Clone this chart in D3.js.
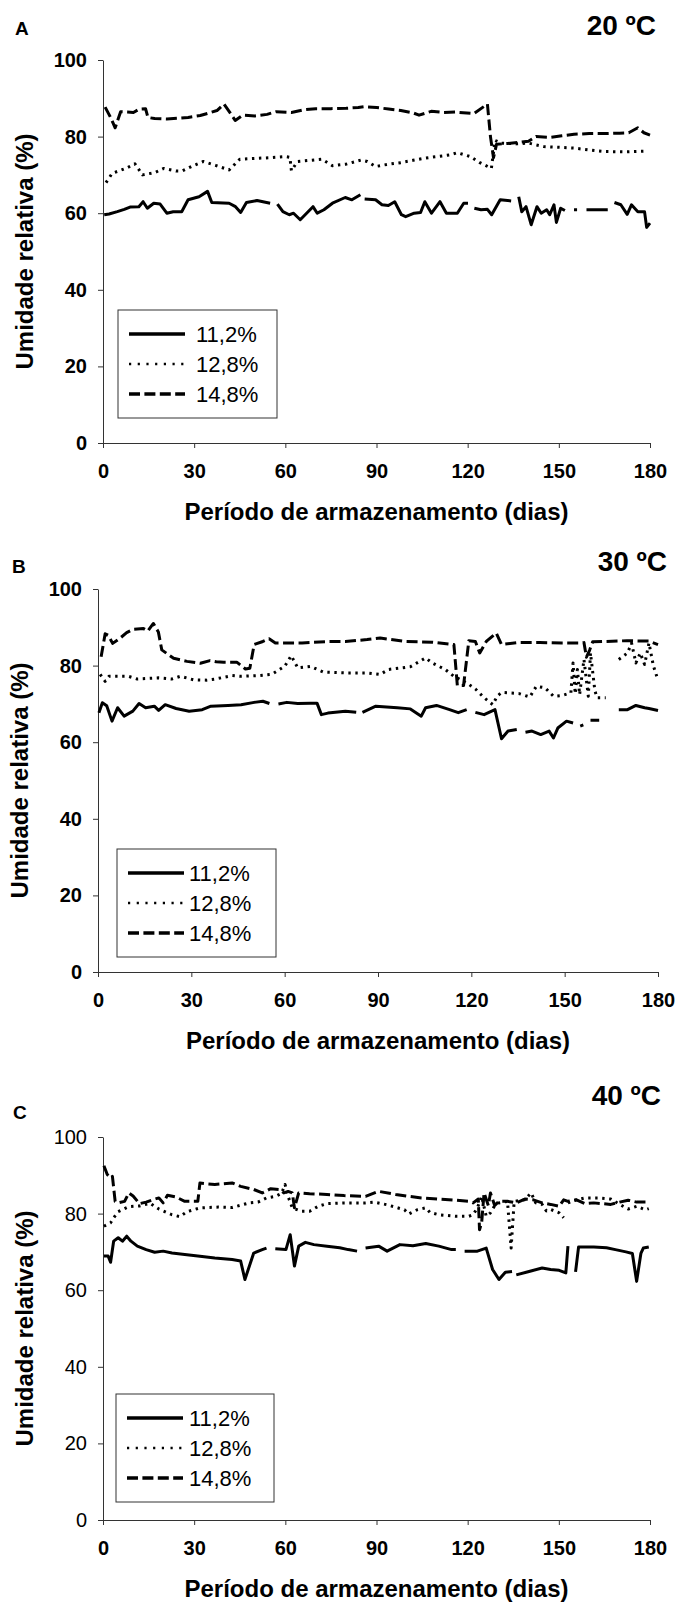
<!DOCTYPE html>
<html>
<head>
<meta charset="utf-8">
<script src="https://cdn.jsdelivr.net/npm/d3@7"></script>
<style>
  body { margin: 0; background: #fff; }
  svg { display: block; font-family: "Liberation Sans", Arial, sans-serif; }
</style>
</head>
<body>
<svg id="chart" width="676" height="1602"></svg>
<script>
const xTicks = [0, 30, 60, 90, 120, 150, 180];
const yTicks = [0, 20, 40, 60, 80, 100];
const seriesNames = ["11,2%", "12,8%", "14,8%"];
const panelLetters = ["A", "B", "C"];
const temperatures = ["20 ºC", "30 ºC", "40 ºC"];

// [dia, UR %]; null = falha na leitura
const rhA112 = [[0.4,59.6],[2,59.8],[4.7,60.4],[7,61],[8.9,61.6],[11.8,61.7],[13.2,63],[14.6,61.3],[16.7,62.6],[18.8,62.4],[21,60],[23.1,60.4],[25.9,60.4],[28,63.5],[31.6,64.3],[34.4,65.7],[35.8,62.8],[41.5,62.6],[43.6,61.7],[45.3,60.2],[47.2,62.8],[50.7,63.3],[55,62.6],null,[57.4,62.4],[59.2,60.4],[61.3,59.6],[62.7,60],[64.9,58.3],[67,60],[69.1,61.7],[70.5,60],[72.7,60.9],[75.5,62.6],[79.7,64.1],[81.9,63.5],[84.7,64.8],null,[86.1,63.7],[89.7,63.5],[91.8,62.2],[93.9,62],[96,63],[98.2,59.6],[99.6,59.1],[102.4,60],[104.5,60.2],[105.9,63],[108.1,60],[110.9,63],[113,60],[116.6,60],[118.7,62.6],[120.1,62.6],null,[122.2,61.3],[124.4,60.9],[126.5,61],[127.9,59.6],[130.7,63.5],[134.3,63.2],null,[136.8,64.3],[137.8,60.4],[139.2,61.7],[140.9,57],[142.8,61.7],[144.2,60],[146,60.9],[147,59.6],[148.4,62.2],[149.2,57.6],[150.6,61.3],[152,60.7],null,[155,60.9],[156,60.9],null,[159.1,60.9],[166.1,60.9],null,[168.3,62.8],[170.4,62.2],[172.5,59.7],[173.9,62.2],[176,60.4],[178.2,60.4],[178.9,56.3],[180,57.4]];
const rhA128 = [[1,68],[3,70.4],[7.5,71.7],[10.5,72.9],[13,70],[17,70.6],[20,71.7],[24,71],[26,71],[30,72.5],[33,73.5],[37,72.5],[41.5,71.3],[45,74.1],[50,74.3],[55,74.5],[60,74.8],[61.5,74.6],[62,71.1],[64,73.5],[68,73.8],[72,74.1],[75.5,72.4],[80,72.8],[85,73.9],[87,73.5],[89.7,72.2],[94,72.8],[98,73.2],[102,73.8],[106,74.4],[110,74.8],[114,75.2],[116.6,75.8],[120.8,74.8],[124,73.2],[127.8,71.7],[129,79],[131,78.3],[136,78.1],[140,78.3],[145,77.4],[150,77.2],[155,77],[160,76.5],[165,76.1],[172,76],[179,76.2]];
const rhA148 = [[0.7,87.7],[2.5,85],[4,82.3],[5.8,86.5],[8,86.4],[10,86.3],[12,87.2],[14,87.3],[14.8,85],[17,84.7],[21,84.6],[25,84.8],[28,85],[32,85.5],[35,86.2],[37.5,86.8],[39.8,88.5],[42,86],[43.5,84.2],[46,85.6],[50,85.4],[54,85.8],[57,86.5],[62,86.3],[66,87],[70,87.3],[75,87.3],[80,87.4],[84,87.6],[86,87.8],[90,87.6],[94,87.2],[98,86.8],[102,86.2],[104,85.6],[108,86.6],[112,86.3],[116,86.4],[122,86],[126.5,88.5],[127.5,80],[128.5,74.5],[129.5,78],[133,78.2],[137,78.5],[140,78.8],[142.5,80],[147,79.8],[151,80.2],[155,80.6],[160,80.8],[165,80.8],[170,80.9],[173,81],[176,82.3],[178,81],[180,80.4]];

const rhB112 = [[0.3,67.7],[1.4,70.3],[2.8,69.5],[4.5,65.5],[6.3,69],[8.4,66.8],[11.2,68.1],[13.2,70.1],[15.3,69],[18.1,69.4],[19.5,68.3],[21.6,69.8],[25.1,68.8],[29.3,68.1],[33.5,68.5],[36.3,69.4],[41.8,69.6],[46,69.8],[50.2,70.4],[53,70.7],[55.1,70.1],null,[58,70],[60.7,70.4],[64.2,70.1],[68.3,70.2],[70.4,70.2],[71.8,67.2],[73.9,67.6],[79.5,68.1],[83,67.8],null,[85,67.8],[89.3,69.4],[96.2,69],[100.4,68.7],[103.9,66.8],[105.3,69],[108.8,69.6],[113,68.5],[115.8,67.7],[118.5,68.5],null,[121.3,67.8],[124.1,67.2],[127.6,68.5],[129.7,60.9],[131.8,62.9],[134.6,63.3],null,[137.4,62.6],[139.5,62.9],[142.3,62],[145,62.9],[146.4,61.1],[147.8,63.7],[150.6,65.5],[152.7,65],null,[155,64.2],[156,64.5],null,[158.3,65.7],[161.1,65.7],null,[167.4,68.5],[170.2,68.5],[172.9,69.6],[175.7,69],[177.1,68.8],[180,68.3]];
const rhB128 = [[0.7,77.7],[2.3,75.9],[3.5,77.2],[9.8,77.2],[12.6,76.5],[19.5,76.8],[23.7,76.5],[26.5,77.2],[30.7,76.3],[34.9,76.2],[37.7,76.5],[43.2,77.4],[46,77.2],[51.6,77.4],[55.8,77.7],[60,79.8],[62.1,82.6],[64.2,79.4],[68.3,79.8],[72.5,78.3],[79.5,78.1],[86.5,78.1],[90.7,77.7],[93.4,79],[100.4,79.7],[105.3,82],[107.4,80.7],[111.6,79],[114.4,77.2],[118.5,75.5],[121.3,73.9],[124.1,71.6],[126.9,69.8],[128.3,72],[129.7,73],[135.3,72.7],[138.8,71.8],[140.9,74.6],[143.7,74.2],[146.4,72],[149.2,72.2],[152,72.9],[152.7,80.7],[153.4,72.6],[154.1,79],[154.8,72.4],[156.2,81.6],[157.6,72],[158.3,83.3],[159.7,73.5],[160.4,71.6],[163.2,71.6],null,[167.4,81.6],[170.2,83.3],[171.5,85.9],[172.9,80.7],[174.3,83.3],[175.7,80.3],[177.1,85.9],[178.5,80],[179.6,77.2]];
const rhB148 = [[1,82.3],[2.3,88.3],[3.3,87.9],[4.7,85.8],[7,87.1],[9.2,88.6],[11.4,89.5],[14.6,89.7],[16,89],[17.8,91],[19.4,88.8],[20.5,84.1],[24.3,81.9],[28.6,81.1],[32.9,80.6],[36,81.3],[38,81],[40.4,80.9],[44.6,80.9],[47.4,79.1],[48.8,79.3],[50.2,85.5],[53,86.3],[55,87],[57,85.9],[65.6,85.9],[74,86.3],[79.5,86.3],[86.5,86.8],[90.7,87.2],[99,86.3],[107.4,86.1],[114.4,85.5],[115.5,74.8],[117.5,74.8],[119.2,86.5],[121.3,86.3],[122.7,83.3],[124.8,86.3],[128,88.5],[129.7,85.5],[135,86],[142,86],[149,85.9],[155.5,85.9],[156.2,86],[157,82.2],[158,84],[159,86.2],[163,86.3],[170,86.5],[177,86.4],[180,85.5]];

const rhC112 = [[0.3,68.9],[1.7,68.9],[2.5,67.3],[3.5,72.8],[5,73.7],[6.4,72.8],[7.8,74.1],[9.2,72.8],[11.3,71.5],[14.2,70.6],[17,69.9],[19.8,70.2],[22.7,69.7],[26.9,69.3],[31.2,68.9],[36.8,68.4],[42.5,68],[45.3,67.6],[46.7,62.8],[49.6,69.7],[52.4,70.6],[53.8,71],null,[56.7,70.8],[60.2,70.6],[61.6,74.5],[63,66.3],[64.4,71.5],[66.6,72.5],[69.4,71.9],[73.7,71.5],[77.9,71.1],[80.7,70.6],[83.6,70.2],null,[86.4,71],[90.7,71.5],[93.5,70.2],[97.7,71.9],[102,71.6],[106.2,72.2],[110.5,71.5],[114.7,70.6],[116.1,70.6],null,[119,70.2],[123.2,70.2],[126.1,71],[128.2,65.4],[130.3,62.8],[132.4,64.7],[134.6,64.9],null,[136,64],[140.2,64.9],[144.5,65.8],[147.3,65.4],[150.1,65.2],[152.3,64.5],[153,71.5],null,[155.5,64.8],[156.5,71.3],[161.5,71.3],[165.7,71.1],[168.6,70.6],[172.1,70],[174.2,69.6],[175.6,62.3],[177,69.6],[177.8,71],[179.6,71.3]];
const rhC128 = [[0.3,76.7],[2.5,77.6],[3.5,78.9],[5,80.5],[8.5,81.8],[12,82],[15.5,82.7],[18.4,81.2],[22.7,79.7],[25.3,79.2],[27.6,80.5],[32,81.5],[38,81.7],[42.5,81.6],[45.3,82.2],[48.2,82.8],[51,83],[53.8,84.1],[56.7,84.5],[58.8,85.3],[59.9,87.6],[60.9,84.5],[62.3,81.5],[65.2,80.6],[68,80.6],[70.8,81.9],[73.7,82.6],[79.3,82.8],[86.4,82.8],[89.2,83],[93.5,82.3],[99.2,81],[100.6,79.9],[103.4,81],[106.2,81.5],[107.6,80.3],[110.5,79.7],[116.1,79.3],[120.4,79.3],[121.8,79.7],[123.2,81.5],[124.6,84.5],[126.1,79.3],[127.5,80.2],[128.9,82.1],[130.3,82.8],[133.1,83.2],[134.3,71],[135.3,83.2],[138.8,83.6],[140.9,85.4],[142.4,82.8],[144.5,82.4],[145.9,80.7],[147.3,81.1],[150.1,80.2],[151.6,78.9],null,[153,82.8],[155.8,83.6],[158.6,84.1],[162.9,84.1],[167.1,83.8],[170,82.4],[172.8,81.2],[175.6,81.9],[178.5,81],[179.6,81.3]];
const rhC148 = [[0.3,92.5],[1.4,90.2],[2.5,89.3],[3.1,89.7],[4,83.2],[5,82.8],[7.1,83.2],[8.5,85.4],[9.9,84.6],[12,82.6],[14.2,83],[16.3,83.6],[18.4,84.1],[19.8,82.8],[21.2,84.8],[24.1,84.3],[26.9,83.2],[31.2,83.2],[31.9,88],[34,87.8],[36.8,87.6],[42.5,88],[45.3,87.1],[49.6,86.3],[52.4,85.4],[55.2,86.5],[58.1,86.3],[59.5,85.4],[60.9,85.8],[62.3,85.4],[63,81.5],[64.4,85.4],[68,85.2],[73.7,85],[79.3,84.7],[86.4,84.5],[90.7,85.8],[96.3,85],[100.6,84.5],[104.8,84.1],[110.5,83.8],[116.1,83.5],[120.4,83.2],[121.8,82.8],[123.5,83.8],[123.9,75.8],[124.6,77.6],[125.4,85.4],[126.8,82.1],[127.5,85.4],[128.9,82.1],[130.3,83.2],[133.1,83.2],[136,82.8],[138.8,83.8],[141.6,83.6],[144.5,82.8],[147.3,82.4],[150.1,81.9],[151.6,83.6],[153,83.2],[155.8,83.6],[158.6,82.6],[161.5,82.8],[164.3,82.6],[167.1,82.4],[170,83],[172.8,83.5],[175.6,83],[179.6,83]];

const panelSeries = [
  [rhA112, rhA128, rhA148],
  [rhB112, rhB128, rhB148],
  [rhC112, rhC128, rhC148]
];

const lineStyles = [
  { width: 3, dash: null, cap: "butt", legWidth: 3.3, legDash: null },
  { width: 3, dash: "2.4,4.6", cap: "butt", legWidth: 2.6, legDash: "2.2,6.5" },
  { width: 3, dash: "11,4.5", cap: "butt", legWidth: 3.3, legDash: "11,4.4" }
];

const layout = [
  { x0: 103, x1: 650, yTop: 60, yBot: 443, letterX: 15, letterY: 35, tempX: 656, tempY: 35, titleX: 33, legX: 118, legY: 310, legW: 159, legText: 78, yBold: true },
  { x0: 98, x1: 658, yTop: 589, yBot: 972, letterX: 12, letterY: 573, tempX: 667, tempY: 571, titleX: 28, legX: 117, legY: 849, legW: 159, legText: 72, yBold: true },
  { x0: 103, x1: 650, yTop: 1137, yBot: 1520, letterX: 13, letterY: 1119, tempX: 661, tempY: 1105, titleX: 33, legX: 116, legY: 1394, legW: 158, legText: 73, yBold: false }
];

const svg = d3.select("#chart");
svg.append("rect").attr("width", 676).attr("height", 1602).attr("fill", "#fff");

layout.forEach((p, i) => {
  const g = svg.append("g");

  const x = d3.scaleLinear().domain([0, 180]).range([p.x0, p.x1]);
  const y = d3.scaleLinear().domain([0, 100]).range([p.yBot, p.yTop]);

  // eixo y
  const yAxis = g.append("g")
    .attr("transform", `translate(${p.x0},0)`)
    .call(d3.axisLeft(y).tickValues(yTicks).tickSize(5).tickSizeOuter(0).tickPadding(11));
  yAxis.select(".domain").attr("stroke", "#333");
  yAxis.selectAll(".tick line").attr("stroke", "#333");
  yAxis.selectAll(".tick text")
    .attr("font-size", 20)
    .attr("font-weight", p.yBold ? "bold" : "normal")
    .attr("font-family", "Liberation Sans, Arial, sans-serif")
    .attr("fill", "#000");

  // eixo x
  const xAxis = g.append("g")
    .attr("transform", `translate(0,${p.yBot})`)
    .call(d3.axisBottom(x).tickValues(xTicks).tickSize(5).tickSizeOuter(0));
  xAxis.select(".domain").attr("stroke", "#333");
  xAxis.selectAll(".tick line").attr("stroke", "#333");
  xAxis.selectAll(".tick text")
    .attr("y", 35).attr("dy", 0)
    .attr("font-size", 20)
    .attr("font-weight", "bold")
    .attr("font-family", "Liberation Sans, Arial, sans-serif")
    .attr("fill", "#000");

  // titulos
  g.append("text")
    .attr("transform", `translate(${p.titleX},${(p.yTop + p.yBot) / 2}) rotate(-90)`)
    .attr("text-anchor", "middle")
    .attr("font-size", 24).attr("font-weight", "bold")
    .text("Umidade relativa (%)");

  g.append("text")
    .attr("x", (p.x0 + p.x1) / 2).attr("y", p.yBot + 77)
    .attr("text-anchor", "middle")
    .attr("font-size", 24).attr("font-weight", "bold")
    .text("Período de armazenamento (dias)");

  g.append("text")
    .attr("x", p.letterX).attr("y", p.letterY)
    .attr("font-size", 19).attr("font-weight", "bold")
    .text(panelLetters[i]);

  g.append("text")
    .attr("x", p.tempX).attr("y", p.tempY)
    .attr("text-anchor", "end")
    .attr("font-size", 28).attr("font-weight", "bold")
    .text(temperatures[i]);

  // series
  const line = d3.line()
    .defined(d => d !== null)
    .x(d => x(d[0]))
    .y(d => y(d[1]));

  panelSeries[i].forEach((s, k) => {
    const st = lineStyles[k];
    g.append("path")
      .datum(s)
      .attr("fill", "none")
      .attr("stroke", "#000")
      .attr("stroke-width", st.width)
      .attr("stroke-linecap", st.cap)
      .attr("stroke-linejoin", "round")
      .attr("stroke-dasharray", st.dash)
      .attr("d", line);
  });

  // legenda
  const leg = g.append("g").attr("transform", `translate(${p.legX},${p.legY})`);
  leg.append("rect")
    .attr("width", p.legW).attr("height", 108)
    .attr("fill", "#fff").attr("stroke", "#333").attr("stroke-width", 1);
  seriesNames.forEach((name, k) => {
    const st = lineStyles[k];
    const ly = 24 + k * 30;
    leg.append("line")
      .attr("x1", 11).attr("x2", 67).attr("y1", ly).attr("y2", ly)
      .attr("stroke", "#000")
      .attr("stroke-width", st.legWidth)
      .attr("stroke-linecap", st.cap)
      .attr("stroke-dasharray", st.legDash);
    leg.append("text")
      .attr("x", p.legText).attr("y", ly).attr("dy", "0.36em")
      .attr("font-size", 22)
      .text(name);
  });
});
</script>
</body>
</html>
